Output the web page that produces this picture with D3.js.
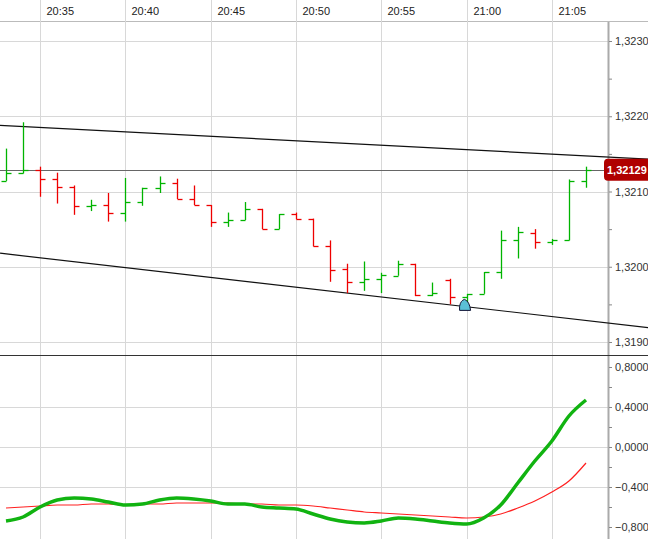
<!DOCTYPE html>
<html><head><meta charset="utf-8">
<script src="https://cdn.jsdelivr.net/npm/d3@7"></script>
<style>body{margin:0;background:#fff}svg{display:block;font-family:Arial,"Liberation Sans",sans-serif}</style>
</head><body><div id="chart"></div>
<script>
// minute bars 20:33 .. 21:07
const opens  = [1.32114,1.32124,1.32128,1.32116,1.32106,1.32081,1.32082,1.32072,1.32086,1.32105,1.32111,1.32090,1.32082,1.32060,1.32062,1.32077,1.32050,1.32070,1.32064,1.32027,1.31997,1.31980,1.31984,1.31988,1.32003,1.31963,1.31983,1.31960,1.31964,1.31993,1.32036,1.32045,1.32033,1.32035,1.32114];
const highs  = [1.32157,1.32192,1.32133,1.32125,1.32108,1.32089,1.32098,1.32118,1.32105,1.32120,1.32117,1.32108,1.32082,1.32072,1.32086,1.32077,1.32070,1.32072,1.32064,1.32035,1.32004,1.32007,1.31992,1.32008,1.32004,1.31979,1.31984,1.31964,1.31993,1.32048,1.32053,1.32050,1.32037,1.32116,1.32133];
const lows   = [1.32114,1.32124,1.32093,1.32084,1.32069,1.32074,1.32060,1.32060,1.32081,1.32098,1.32090,1.32082,1.32053,1.32053,1.32062,1.32050,1.32050,1.32063,1.32027,1.31980,1.31965,1.31968,1.31965,1.31988,1.31961,1.31961,1.31950,1.31950,1.31964,1.31984,1.32011,1.32024,1.32029,1.32035,1.32105];
const closes = [1.32124,1.32128,1.32116,1.32106,1.32081,1.32082,1.32072,1.32086,1.32105,1.32111,1.32090,1.32082,1.32060,1.32062,1.32077,1.32050,1.32070,1.32063,1.32027,1.31996,1.31980,1.31984,1.31989,1.32003,1.31963,1.31965,1.31960,1.31964,1.31993,1.32036,1.32046,1.32033,1.32035,1.32114,1.32129];
const fastLine = [-0.74,-0.70,-0.60,-0.53,-0.51,-0.52,-0.55,-0.58,-0.57,-0.53,-0.51,-0.52,-0.54,-0.57,-0.57,-0.60,-0.61,-0.62,-0.67,-0.72,-0.75,-0.76,-0.74,-0.71,-0.72,-0.74,-0.76,-0.77,-0.71,-0.58,-0.36,-0.14,0.06,0.31,0.47];
const slowLine = [-0.61,-0.60,-0.59,-0.58,-0.58,-0.57,-0.57,-0.58,-0.57,-0.57,-0.56,-0.56,-0.56,-0.56,-0.57,-0.57,-0.58,-0.58,-0.59,-0.61,-0.63,-0.65,-0.66,-0.67,-0.68,-0.69,-0.70,-0.71,-0.70,-0.67,-0.61,-0.54,-0.45,-0.34,-0.16];
const timeTicks = ["20:35","20:40","20:45","20:50","20:55","21:00","21:05"];
const priceTicks = [1.3190,1.3200,1.3210,1.3220,1.3230];
const oscTicks = [-0.8,-0.4,0,0.4,0.8];
const lastPrice = 1.32129;
const upperTrend = [[-0.35,1.32188],[37.7,1.32143]];
const lowerTrend = [[-0.35,1.32018],[37.7,1.31919]];
const signalBar = 27;

const W = 648, H = 539, axisX = 608;
const svg = d3.select("#chart").append("svg").attr("width", W).attr("height", H);
const fmt = v => d3.format(".5f")(v).replace(".", ",");

// minute index -> x
const x = d3.scaleLinear().domain([0, 34]).range([6, 586]);
const y = d3.scaleLinear().domain([1.3190, 1.3230]).range([342, 41]);
const yo = d3.scaleLinear().domain([-0.8, 0.8]).range([527, 367]);

// top band
svg.append("line").attr("x1", 0).attr("x2", W).attr("y1", 21.5).attr("y2", 21.5).attr("stroke", "#bbb");

// vertical grid
timeTicks.forEach((t, i) => {
  const gx = Math.round(x(2 + i * 5)) + 0.5;
  svg.append("line").attr("x1", gx).attr("x2", gx).attr("y1", 0).attr("y2", H).attr("stroke", "#d8d8d8");
  svg.append("text").attr("x", gx + 6).attr("y", 15).attr("font-size", 11).attr("fill", "#222").text(t);
});

// horizontal grid
const grid = (vals, sc) => vals.forEach(v => {
  const gy = Math.round(sc(v)) + 0.5;
  svg.append("line").attr("x1", 0).attr("x2", axisX).attr("y1", gy).attr("y2", gy).attr("stroke", "#d8d8d8");
});
grid(priceTicks, y);
grid([-0.4, 0, 0.4], yo);

// right axes
svg.append("line").attr("x1", axisX + 0.5).attr("x2", axisX + 0.5).attr("y1", 22).attr("y2", H).attr("stroke", "#aaa").attr("stroke-width", 2);
const pAxis = svg.append("g").attr("transform", `translate(${axisX + 1},0)`)
  .call(d3.axisRight(y).tickValues(d3.range(0, 9).map(k => 1.3190 + k * 0.0005)).tickSize(3)
    .tickFormat((d, k) => k % 2 === 0 ? fmt(d) : ""));
const oAxis = svg.append("g").attr("transform", `translate(${axisX + 1},0)`)
  .call(d3.axisRight(yo).tickValues(d3.range(0, 9).map(k => -0.8 + k * 0.2)).tickSize(3)
    .tickFormat((d, k) => k % 2 === 0 ? fmt(d) : ""));
[pAxis, oAxis].forEach(a => {
  a.select(".domain").remove();
  a.selectAll("line").attr("stroke", "#888");
  a.selectAll("text").attr("font-size", 11).attr("fill", "#333").attr("font-family", "Arial, Liberation Sans, sans-serif");
});

// pane separator
svg.append("line").attr("x1", 0).attr("x2", W).attr("y1", 355.5).attr("y2", 355.5).attr("stroke", "#333");

// clip price pane
svg.append("clipPath").attr("id", "pc").append("rect").attr("x", 0).attr("y", 22).attr("width", W).attr("height", 333);
const pp = svg.append("g").attr("clip-path", "url(#pc)");

// trend lines
[upperTrend, lowerTrend].forEach(tl => {
  pp.append("line").attr("x1", x(tl[0][0])).attr("y1", y(tl[0][1])).attr("x2", x(tl[1][0])).attr("y2", y(tl[1][1]))
    .attr("stroke", "#111").attr("stroke-width", 1.2);
});
pp.append("line").attr("x1", 0).attr("x2", W).attr("y1", Math.round(y(lastPrice)) + 0.5).attr("y2", Math.round(y(lastPrice)) + 0.5).attr("stroke", "#666");

// OHLC bars
opens.forEach((o, i) => {
  const c = closes[i], col = c >= o ? "#00b400" : "#ee0000";
  const bx = Math.round(x(i)) + 0.5;
  pp.append("line").attr("x1", bx).attr("x2", bx).attr("y1", y(highs[i])).attr("y2", y(lows[i])).attr("stroke", col).attr("stroke-width", 1.3);
  pp.append("line").attr("x1", bx - 5).attr("x2", bx).attr("y1", Math.round(y(o)) + 0.5).attr("y2", Math.round(y(o)) + 0.5).attr("stroke", col).attr("stroke-width", 1.3);
  pp.append("line").attr("x1", bx).attr("x2", bx + 5).attr("y1", Math.round(y(c)) + 0.5).attr("y2", Math.round(y(c)) + 0.5).attr("stroke", col).attr("stroke-width", 1.3);
});

// signal marker
const mx = x(signalBar) - 2, my = y(lows[signalBar]) + 2;
pp.append("path").attr("d", `M${mx - 5},${my + 4} L${mx - 5},${my} Q${mx - 4},${my - 6} ${mx},${my - 7} Q${mx + 5},${my - 5} ${mx + 6},${my + 4} Z`)
  .attr("fill", "#5bc0d6").attr("stroke", "#113").attr("stroke-width", 1);

// last price label
const ly = y(lastPrice);
svg.append("rect").attr("x", 604).attr("y", ly - 11).attr("width", 50).attr("height", 22).attr("rx", 4).attr("fill", "#b00000");
svg.append("text").attr("x", 607).attr("y", ly + 4).attr("font-size", 11).attr("font-weight", "bold").attr("fill", "#fff").text(fmt(lastPrice));

// oscillator
svg.append("clipPath").attr("id", "oc").append("rect").attr("x", 0).attr("y", 356).attr("width", axisX).attr("height", 183);
const op = svg.append("g").attr("clip-path", "url(#oc)");
const ln = d3.line().x((d, i) => x(i)).y(d => yo(d)).curve(d3.curveMonotoneX);
op.append("path").datum(slowLine).attr("d", ln).attr("fill", "none").attr("stroke", "#ff2020").attr("stroke-width", 1.2);
op.append("path").datum(fastLine).attr("d", ln).attr("fill", "none").attr("stroke", "#11b311").attr("stroke-width", 3.5);
</script></body></html>
